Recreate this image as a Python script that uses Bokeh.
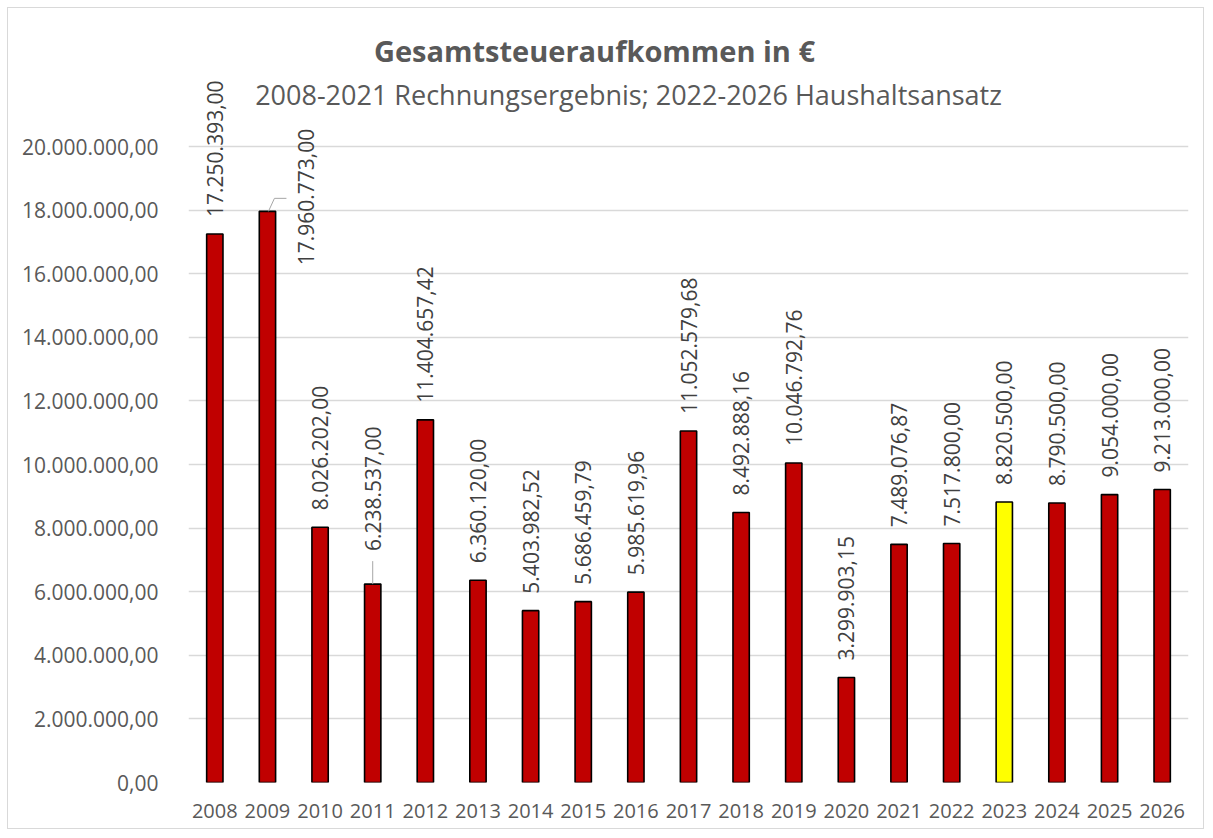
import math
from bokeh.plotting import figure
from bokeh.models import FixedTicker, Label, ColumnDataSource
from bokeh.core.properties import value
from bokeh.embed import file_html
from bokeh.resources import INLINE

# ---- data ----
years = ["2008", "2009", "2010", "2011", "2012", "2013", "2014", "2015", "2016",
         "2017", "2018", "2019", "2020", "2021", "2022", "2023", "2024", "2025", "2026"]
amounts = [17250393.00, 17960773.00, 8026202.00, 6238537.00, 11404657.42,
           6360120.00, 5403982.52, 5686459.79, 5985619.96, 11052579.68,
           8492888.16, 10046792.76, 3299903.15, 7489076.87, 7517800.00,
           8820500.00, 8790500.00, 9054000.00, 9213000.00]
highlight_year = "2023"
y_ticks = [0, 2000000, 4000000, 6000000, 8000000, 10000000,
           12000000, 14000000, 16000000, 18000000, 20000000]
title_text = "Gesamtsteueraufkommen in €"
subtitle_text = "2008-2021 Rechnungsergebnis; 2022-2026 Haushaltsansatz"


def de_fmt(v):
    s = f"{v:,.2f}"
    return s.replace(",", "X").replace(".", ",").replace("X", ".")


# ---- layout constants (pixels) ----
W, H = 1197, 822
BL, BR, BT, BB = 180, 17, 5, 48
frame_w = W - BL - BR
frame_h = H - BT - BB
px_per_unit_y = 636.0 / 20000000.0       # 20 Mio -> 636 px
y_end = frame_h / px_per_unit_y
n = len(years)
px_per_unit_x = frame_w / n
upy = 1.0 / px_per_unit_y                 # data units per pixel (y)
upx = 1.0 / px_per_unit_x                 # data units per pixel (x)

FONT = "Open Sans"
GREY = "#595959"
LABEL_GREY = "#404040"

idx = list(range(n))
colors = ["#FFFF00" if y == highlight_year else "#C00000" for y in years]

p = figure(width=W, height=H, output_backend="svg", toolbar_location=None,
           x_range=(-0.5, n - 0.5), y_range=(0, y_end),
           min_border_left=BL, min_border_right=BR,
           min_border_top=BT, min_border_bottom=BB)
p.outline_line_color = None
p.background_fill_color = "white"
p.border_fill_color = "white"
p.styles = {"border": "1px solid #d9d9d9", "margin-left": "7px", "margin-top": "7px"}

# grid
p.xgrid.grid_line_color = None
p.ygrid.grid_line_color = "#d9d9d9"
p.ygrid.grid_line_width = 1.3

# axes
p.yaxis.ticker = FixedTicker(ticks=y_ticks)
p.yaxis.major_label_overrides = {t: de_fmt(t) for t in y_ticks}
p.yaxis.axis_line_color = None
p.yaxis.major_tick_line_color = None
p.yaxis.minor_tick_line_color = None
p.yaxis.major_label_text_font = FONT
p.yaxis.major_label_text_font_size = "21px"
p.yaxis.major_label_text_color = GREY
p.yaxis.major_label_standoff = 24

p.xaxis.ticker = FixedTicker(ticks=idx)
p.xaxis.major_label_overrides = {i: y for i, y in zip(idx, years)}
p.xaxis.axis_line_color = None
p.xaxis.major_tick_line_color = None
p.xaxis.minor_tick_line_color = None
p.xaxis.major_label_text_font = FONT
p.xaxis.major_label_text_font_size = "20px"
p.xaxis.major_label_text_color = GREY
p.xaxis.major_label_standoff = 15

# bars
src = ColumnDataSource(dict(x=idx, top=amounts, color=colors))
p.vbar(x="x", top="top", width=0.31, bottom=0, source=src,
       fill_color="color", line_color="black", line_width=1.6)

# data labels (rotated), default 17 px above bar top
dx_px = {"2009": 39}
dy_px = {"2009": -54, "2011": 33}
lx, ly, lt = [], [], []
for i, (yr, v) in enumerate(zip(years, amounts)):
    lx.append(i + dx_px.get(yr, 0) * upx)
    ly.append(v + dy_px.get(yr, 17) * upy)
    lt.append(de_fmt(v))
p.text(x=lx, y=ly, text=lt, angle=math.pi / 2, text_align="left",
       text_baseline="middle", text_font=value(FONT), text_font_size="21px",
       text_color=LABEL_GREY)

# leader lines
i09 = years.index("2009")
v09 = amounts[i09]
p.line(x=[i09 + 1 * upx, i09 + 7 * upx, i09 + 19 * upx],
       y=[v09, v09 + 13 * upy, v09 + 13 * upy], line_color="#a6a6a6", line_width=1)
i11 = years.index("2011")
v11 = amounts[i11]
p.line(x=[i11, i11], y=[v11, v11 + 23 * upy], line_color="#a6a6a6", line_width=1)

# titles (screen units relative to frame)
p.add_layout(Label(x=406, y=frame_h - 37, x_units="screen", y_units="screen",
                   text=title_text, text_font=FONT, text_font_size="29px",
                   text_font_style="bold", text_color=GREY,
                   text_align="center", text_baseline="middle"))
p.add_layout(Label(x=440, y=frame_h - 81, x_units="screen", y_units="screen",
                   text=subtitle_text, text_font=FONT, text_font_size="27px",
                   text_color=GREY, text_align="center", text_baseline="middle"))

open("out.html", "w").write(file_html(p, INLINE))
